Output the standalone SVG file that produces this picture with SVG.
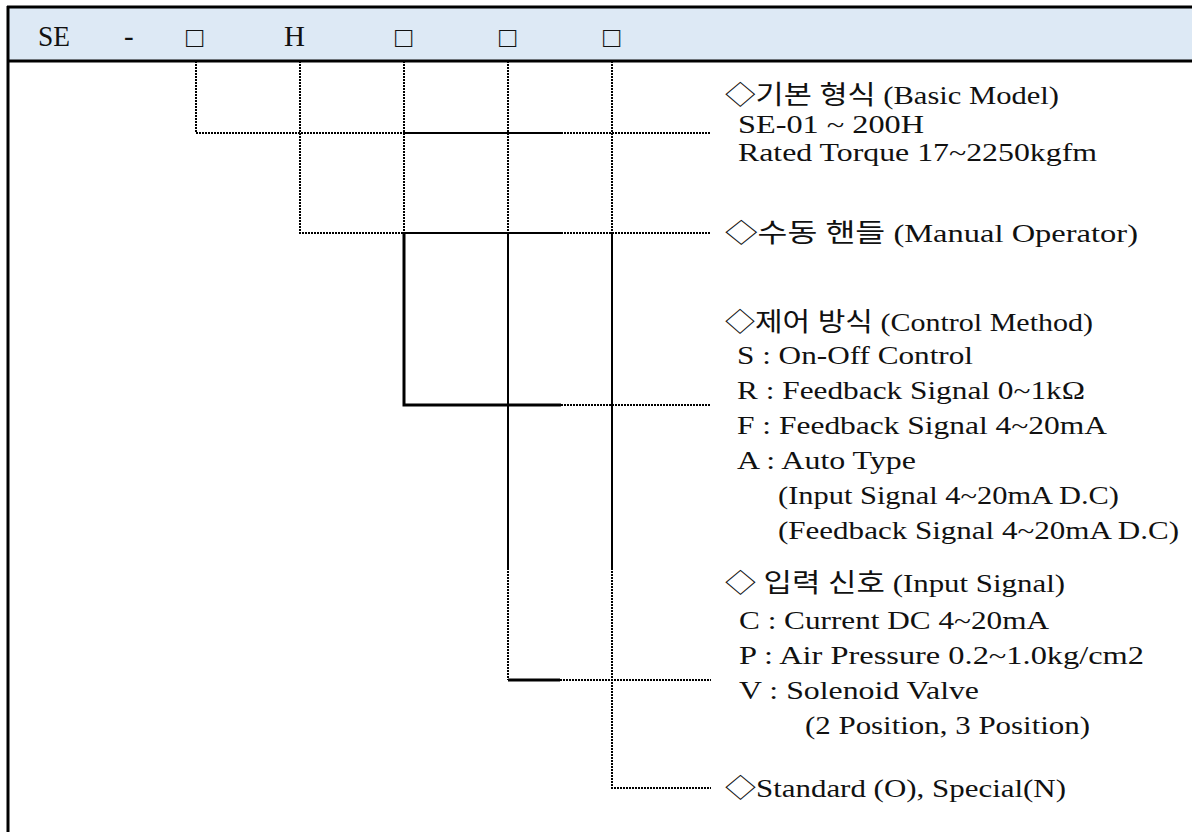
<svg xmlns="http://www.w3.org/2000/svg" width="1192" height="832" viewBox="0 0 1192 832">
<style>
.frame{stroke:#000;stroke-width:3;fill:none}
.dot{stroke:#000;stroke-width:2;fill:none;stroke-dasharray:2 1}
.sol{stroke:#000;stroke-width:2;fill:none}
.thk{stroke:#000;stroke-width:3;fill:none}
.h{font-family:"Liberation Serif","Noto Sans CJK KR",serif;font-size:29px;fill:#111}
.t{font-family:"Liberation Serif","Noto Sans CJK KR",serif;font-size:26px;fill:#111}
</style>
<rect x="0" y="0" width="1192" height="832" fill="#fff"/>
<g id="header">
<rect x="8" y="7" width="1184" height="54" fill="#DDE9F5"/>
<line class="frame" x1="7" y1="7" x2="1192" y2="7"/>
<line class="frame" x1="7" y1="61" x2="1192" y2="61"/>
<line class="frame" x1="8" y1="6" x2="8" y2="832"/>
<text class="h" x="38" y="46" textLength="32" lengthAdjust="spacingAndGlyphs">SE</text>
<text class="h" x="124" y="46">-</text>
<text class="h" x="186" y="47">□</text>
<text class="h" x="284" y="46">H</text>
<text class="h" x="395" y="47">□</text>
<text class="h" x="499" y="47">□</text>
<text class="h" x="603" y="47">□</text>
</g>
<g id="connectors">
<path class="dot" d="M196 61 V133 H404"/>
<path class="sol" d="M404 133 H561"/>
<path class="dot" d="M561 133 H711"/>
<path class="dot" d="M300 61 V233 H404"/>
<path class="sol" d="M404 233 H561"/>
<path class="dot" d="M561 233 H711"/>
<path class="dot" d="M404 61 V233"/>
<path class="thk" d="M404 233 V405 H561"/>
<path class="dot" d="M561 405 H711"/>
<path class="dot" d="M508 61 V233"/>
<path class="sol" d="M508 233 V568"/>
<path class="dot" d="M508 568 V680"/>
<path class="thk" d="M508 680 H560"/>
<path class="dot" d="M560 680 H711"/>
<path class="dot" d="M612 61 V233"/>
<path class="sol" d="M612 233 V568"/>
<path class="dot" d="M612 568 V788 H711"/>
</g>
<g id="basic-model">
<text class="t" x="725" y="104" textLength="334" lengthAdjust="spacingAndGlyphs">◇기본 형식 (Basic Model)</text>
<text class="t" x="738" y="133" textLength="186" lengthAdjust="spacingAndGlyphs">SE-01 ~ 200H</text>
<text class="t" x="738" y="161" textLength="359" lengthAdjust="spacingAndGlyphs">Rated Torque 17~2250kgfm</text>
</g>
<g id="manual-operator">
<text class="t" x="725" y="242" textLength="413" lengthAdjust="spacingAndGlyphs">◇수동 핸들 (Manual Operator)</text>
</g>
<g id="control-method">
<text class="t" x="725" y="331" textLength="368" lengthAdjust="spacingAndGlyphs">◇제어 방식 (Control Method)</text>
<text class="t" x="737" y="364" textLength="236" lengthAdjust="spacingAndGlyphs">S : On-Off Control</text>
<text class="t" x="737" y="399" textLength="348" lengthAdjust="spacingAndGlyphs">R : Feedback Signal 0~1kΩ</text>
<text class="t" x="737" y="434" textLength="370" lengthAdjust="spacingAndGlyphs">F : Feedback Signal 4~20mA</text>
<text class="t" x="737" y="469" textLength="179" lengthAdjust="spacingAndGlyphs">A : Auto Type</text>
<text class="t" x="778" y="504" textLength="341" lengthAdjust="spacingAndGlyphs">(Input Signal 4~20mA D.C)</text>
<text class="t" x="778" y="539" textLength="401" lengthAdjust="spacingAndGlyphs">(Feedback Signal 4~20mA D.C)</text>
</g>
<g id="input-signal">
<text class="t" x="725" y="592" textLength="340" lengthAdjust="spacingAndGlyphs">◇ 입력 신호 (Input Signal)</text>
<text class="t" x="739" y="629" textLength="310" lengthAdjust="spacingAndGlyphs">C : Current DC 4~20mA</text>
<text class="t" x="739" y="664" textLength="405" lengthAdjust="spacingAndGlyphs">P : Air Pressure 0.2~1.0kg/cm2</text>
<text class="t" x="739" y="699" textLength="240" lengthAdjust="spacingAndGlyphs">V : Solenoid Valve</text>
<text class="t" x="805" y="734" textLength="285" lengthAdjust="spacingAndGlyphs">(2 Position, 3 Position)</text>
</g>
<g id="standard">
<text class="t" x="725" y="797" textLength="341" lengthAdjust="spacingAndGlyphs">◇Standard (O), Special(N)</text>
</g>
</svg>
